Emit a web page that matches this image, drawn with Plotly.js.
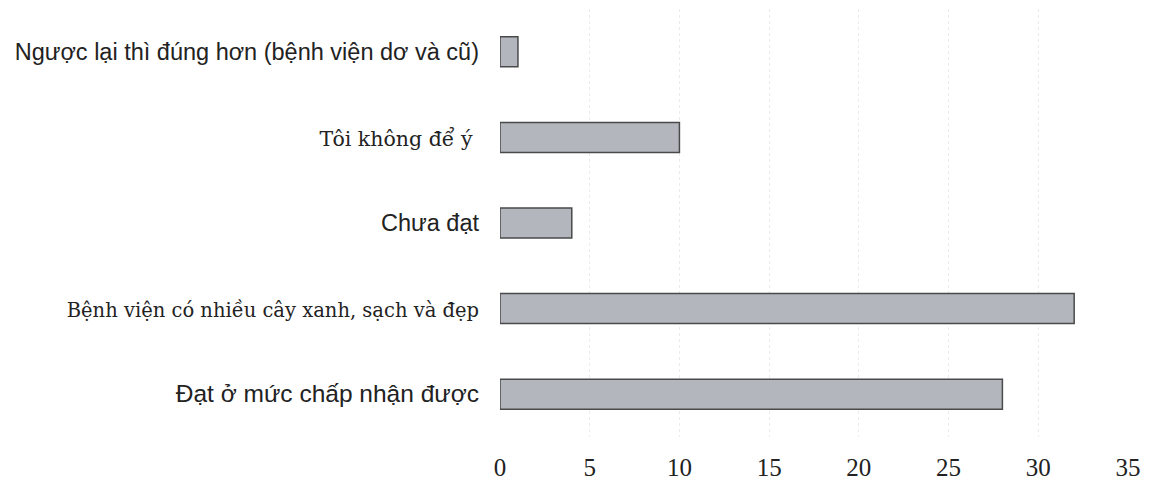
<!DOCTYPE html>
<html>
<head>
<meta charset="utf-8">
<script src="https://cdn.plot.ly/plotly-3.0.1.min.js"></script>
<style>html,body{margin:0;padding:0;background:#fff;}#chart{width:1150px;height:481px;}</style>
</head>
<body>
<div id="chart"></div>
<script>
const categories = [
  "Ngược lại thì đúng hơn (bệnh viện dơ và cũ)",
  "Tôi không để ý",
  "Chưa đạt",
  "Bệnh viện có nhiều cây xanh, sạch và đẹp",
  "Đạt ở mức chấp nhận được"
];
const values = [1, 10, 4, 32, 28];
const labelFonts = ["Liberation Sans", "DejaVu Serif", "Liberation Sans", "DejaVu Serif", "Liberation Sans"];
const labelSizes = [23.5, 20.5, 23.5, 19.5, 24.5];
const xTicks = [0, 5, 10, 15, 20, 25, 30, 35];

const tickText = categories.map((c, i) =>
  '<span style="font-family:\'' + labelFonts[i] + '\';font-size:' + labelSizes[i] + 'px">' + c + (i === 1 ? '\u00a0' : '') + '</span>');

const trace = {
  type: 'bar',
  orientation: 'h',
  x: values,
  y: categories,
  width: 0.35,
  marker: { color: '#b3b7bd', line: { color: '#4a4a4a', width: 1.5 } },
  hoverinfo: 'x+y'
};

const layout = {
  width: 1150,
  height: 481,
  margin: { l: 500, r: 22, t: 9, b: 44 },
  paper_bgcolor: '#ffffff',
  plot_bgcolor: '#ffffff',
  showlegend: false,
  xaxis: {
    range: [0, 35],
    tickvals: xTicks,
    ticktext: xTicks.map(String),
    showgrid: true,
    gridcolor: '#ebebeb',
    griddash: 'dot',
    gridwidth: 1,
    zeroline: false,
    showline: false,
    ticks: '',
    ticklabelstandoff: 13,
    tickfont: { family: 'Liberation Serif', size: 25, color: '#222' }
  },
  yaxis: {
    type: 'category',
    autorange: 'reversed',
    tickvals: categories,
    ticktext: tickText,
    showgrid: false,
    zeroline: false,
    showline: false,
    ticks: '',
    ticklabelstandoff: 20,
    tickfont: { family: 'Liberation Sans', size: 23.5, color: '#222' }
  }
};

Plotly.newPlot('chart', [trace], layout, { displayModeBar: false, staticPlot: true });
</script>
</body>
</html>
